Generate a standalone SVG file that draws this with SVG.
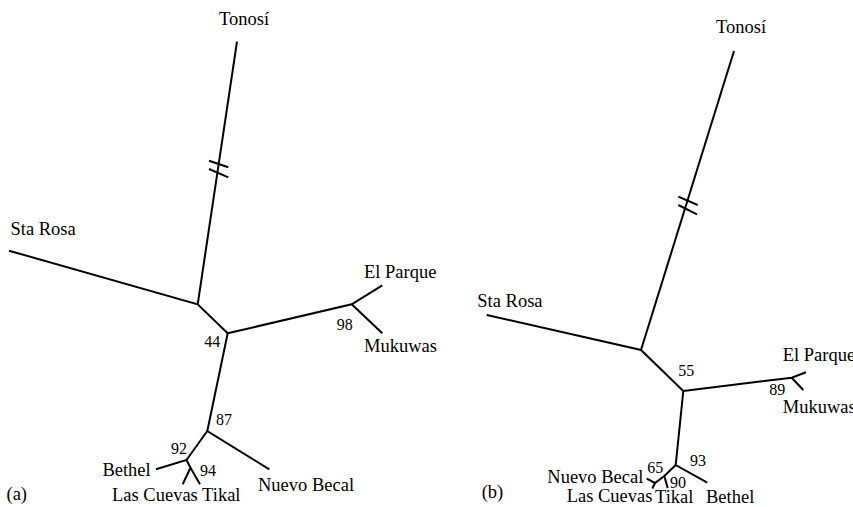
<svg xmlns="http://www.w3.org/2000/svg" width="853" height="507" viewBox="0 0 853 507">
<style>
.e{stroke:#000;stroke-width:2;fill:none;stroke-linecap:butt}
text{font-family:'Liberation Serif','DejaVu Serif',serif;fill:#000}
.n{font-size:18.5px}
.b{font-size:16px}
</style>
<rect width="853" height="507" fill="#fff"/>
<g id="connectors">
  <path class="e" d="M237,41.7 L197.7,304.3"/>
  <path class="e" d="M209,160.7 L228.3,167.3 M209,169 L228.3,177.3"/>
  <path class="e" d="M9,250.7 L197.7,304.3 L227.7,333.3"/>
  <path class="e" d="M227.7,333.3 L351.7,304.3 L382.3,285.3 M351.7,304.3 L382.3,333.3"/>
  <path class="e" d="M227.7,333.3 L207.3,431 L269.3,469.3"/>
  <path class="e" d="M207.3,431 L186.5,460 L156,469.3 M186.5,460 L190.5,467.8 L182.7,484.3 M190.5,467.8 L200,484.3"/>
  <path class="e" d="M734,51 L641,350"/>
  <path class="e" d="M678.3,196.7 L697.7,205 M678.3,205 L697,214.3"/>
  <path class="e" d="M486.7,315 L641,350 L683.3,391"/>
  <path class="e" d="M683.3,391 L791.7,377.7 L806,372.3 M791.7,377.7 L803.3,390"/>
  <path class="e" d="M683.3,391 L675.7,465 L707.3,482.7"/>
  <path class="e" d="M675.7,465 L664.3,476 L667.7,488 M664.3,476 L655,483 L646.7,478.7 M655,483 L652.3,488.5"/>
</g>
<g id="tree-a">
  <g id="a-tonosi"><text class="n" x="219" y="25">Tonosí</text></g>
  <g id="a-starosa"><text class="n" x="10.5" y="235">Sta Rosa</text></g>
  <g id="a-elparque"><text class="n" x="364" y="278.3">El Parque</text></g>
  <g id="a-mukuwas"><text class="n" x="364" y="351.7">Mukuwas</text></g>
  <g id="a-nuevobecal"><text class="n" x="258" y="491">Nuevo Becal</text></g>
  <g id="a-bethel"><text class="n" x="150.7" y="476" text-anchor="end">Bethel</text></g>
  <g id="a-lascuevas"><text class="n" x="112" y="500.7">Las Cuevas Tikal</text></g>
  <g id="a-support">
    <text class="b" x="204.3" y="347.3">44</text>
    <text class="b" x="336.7" y="330">98</text>
    <text class="b" x="216" y="425">87</text>
    <text class="b" x="171" y="454">92</text>
    <text class="b" x="200" y="475.7">94</text>
  </g>
  <g id="a-label"><text class="n" x="6.5" y="500">(a)</text></g>
</g>
<g id="tree-b">
  <g id="b-tonosi"><text class="n" x="716" y="33.3">Tonosí</text></g>
  <g id="b-starosa"><text class="n" x="477.3" y="306.7">Sta Rosa</text></g>
  <g id="b-elparque"><text class="n" x="782.7" y="360.7">El Parque</text></g>
  <g id="b-mukuwas"><text class="n" x="782.7" y="412.7">Mukuwas</text></g>
  <g id="b-nuevobecal"><text class="n" x="547.3" y="482.7">Nuevo Becal</text></g>
  <g id="b-lascuevas"><text class="n" x="566.7" y="501.7">Las Cuevas</text></g>
  <g id="b-tikal"><text class="n" x="655" y="502.5">Tikal</text></g>
  <g id="b-bethel"><text class="n" x="706" y="502.5">Bethel</text></g>
  <g id="b-support">
    <text class="b" x="678.3" y="376">55</text>
    <text class="b" x="769.3" y="395">89</text>
    <text class="b" x="690" y="466">93</text>
    <text class="b" x="647.3" y="472.7">65</text>
    <text class="b" x="670" y="488.3">90</text>
  </g>
  <g id="b-label"><text class="n" x="481.7" y="497.7">(b)</text></g>
</g>
</svg>
